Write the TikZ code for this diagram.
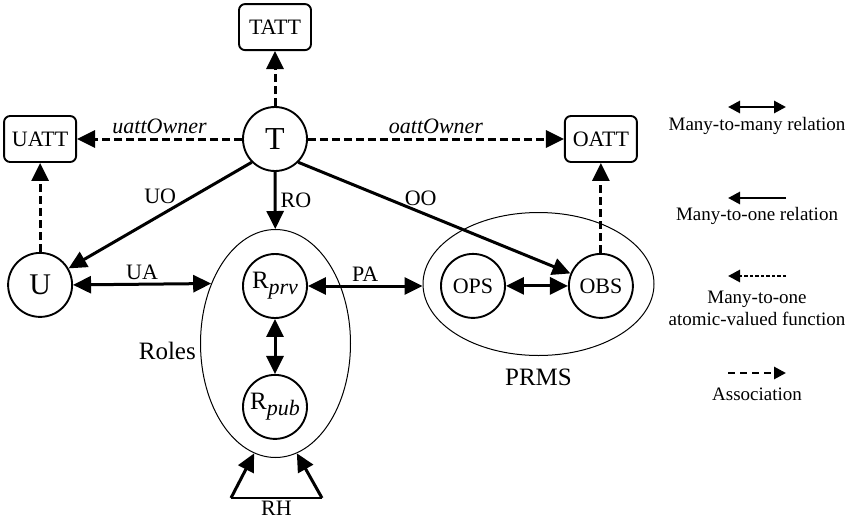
\documentclass[tikz,border=0pt]{standalone}
\usepackage{fontspec}
\setmainfont{Liberation Serif}
\usetikzlibrary{shapes.geometric,arrows.meta,positioning}
\tikzset{
  ent/.style={circle,draw,line width=1.9pt,minimum size=64pt,inner sep=0pt,font=\fontsize{22}{24}\selectfont},
  att/.style={rectangle,rounded corners=6pt,draw,line width=1.9pt,minimum width=72pt,minimum height=46pt,inner sep=0pt,font=\fontsize{22}{24}\selectfont},
  grp/.style={ellipse,draw,line width=1pt,inner sep=0pt},
  lbl/.style={inner sep=1pt,font=\fontsize{22}{24}\selectfont},
  fnlbl/.style={inner sep=1pt,font=\fontsize{22}{24}\selectfont\itshape},
  leg/.style={inner sep=1pt,align=center,font=\fontsize{19}{22}\selectfont},
  rel/.style={line width=3pt,-{Triangle[length=18pt,width=17pt]}},
  mm/.style={line width=3pt,{Triangle[length=18pt,width=17pt]}-{Triangle[length=18pt,width=17pt]}},
  assoc/.style={rel,dash pattern=on 8pt off 4pt},
  legrel/.style={line width=2.8pt,-{Triangle[length=12pt,width=12pt]}},
  legmm/.style={line width=2.8pt,{Triangle[length=12pt,width=12pt]}-{Triangle[length=12pt,width=12pt]}},
}
\newcommand{\rsub}[1]{R\raisebox{-0.25em}{\fontsize{22}{22}\selectfont\itshape #1}}

\begin{document}
\begin{tikzpicture}[x=1pt,y=-1pt]
  \useasboundingbox (0,0) rectangle (849,522);

  % entities and attribute boxes
  \node[ent,font=\fontsize{32}{34}\selectfont] (T) at (275,139) {T};
  \node[att] (TATT) [above=55pt of T] {TATT};
  \node[att] (UATT) [left=165pt of T] {UATT};
  \node[att] (OATT) [right=256pt of T] {OATT};
  \node[ent,font=\fontsize{30}{32}\selectfont] (U) [below=89pt of UATT] {U};
  \node[ent] (OBS) [below=90pt of OATT] {OBS};
  \node[ent] (OPS) [left=62pt of OBS] {OPS};
  \node[ent,font=\fontsize{25}{27}\selectfont] (Rprv) at (275,286) {\rsub{prv}};
  \node[ent,font=\fontsize{25}{27}\selectfont] (Rpub) [below=55pt of Rprv] {\rsub{pub}};

  % groups
  \node[grp,minimum width=150pt,minimum height=228pt] (Roles) at (275.5,343.5) {};
  \node[grp,minimum width=231pt,minimum height=143pt] (PRMS) at (538.5,284) {};
  \node[lbl,font=\fontsize{25}{27}\selectfont] (rolesTxt) [left=3pt of Roles.west,yshift=-7pt] {Roles};
  \node[lbl,font=\fontsize{25}{27}\selectfont] (prmsTxt) [below=12pt of PRMS.south] {PRMS};

  % relations
  \draw[assoc] (T) -- (TATT);
  \draw[assoc] (T) -- node[fnlbl,above=3pt] {uattOwner} (UATT);
  \draw[assoc] (T) -- node[fnlbl,above=3pt] {oattOwner} (OATT);
  \draw[assoc] (U) -- (UATT);
  \draw[assoc] (OBS) -- (OATT);
  \draw[rel] (T.225) -- node[lbl,above=9pt] {UO} (U);
  \draw[rel] (T) -- node[lbl,right=3pt] {RO} (Roles);
  \draw[rel] (T.-45) -- node[lbl,pos=.45,above=4pt] {OO} (OBS);
  \draw[mm] (U.east) -- node[lbl,above=2pt] {UA} (Roles.137);
  \draw[mm] (Rprv.east) -- node[lbl,above=2pt] {PA} (Rprv.east -| PRMS.west);
  \draw[mm] (Rprv) -- (Rpub);
  \draw[mm] (OPS) -- (OBS);

  % role hierarchy
  \coordinate (rhL) at (231,498);
  \coordinate (rhR) at (322,498);
  \draw[line width=1.6pt] (rhL) -- node[lbl,below=1pt] {RH} (rhR);
  \draw[rel] (rhL) -- (Roles.259);
  \draw[rel] (rhR) -- (Roles.281);

  % legend
  \coordinate (mmA) at (728,107); \coordinate (mmB) at (786,107);
  \coordinate (moA) at (728,198); \coordinate (moB) at (786,198);
  \coordinate (fnA) at (728,276); \coordinate (fnB) at (786,276);
  \coordinate (asA) at (728,373); \coordinate (asB) at (786,373);
  \draw[legmm] (mmA) -- (mmB);
  \draw[legrel] (moB) -- (moA);
  \draw[legrel,dash pattern=on 3.5pt off 2pt] (fnB) -- (fnA);
  \draw[legrel,dash pattern=on 7pt off 5pt] (asA) -- (asB);
  \node[leg] (mmTxt) at (757,126) {Many-to-many relation};
  \node[leg] (moTxt) at (757,216) {Many-to-one relation};
  \node[leg] (fnTxt) at (757,308) {Many-to-one\\atomic-valued function};
  \node[leg] (asTxt) at (757,394) {Association};
\end{tikzpicture}
\end{document}
